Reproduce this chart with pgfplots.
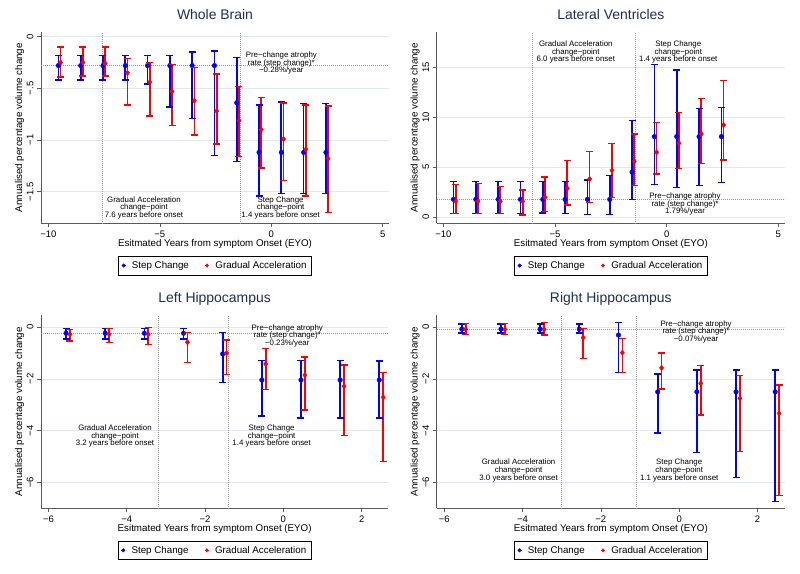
\documentclass[border=0pt]{standalone}
\usepackage{pgfplots}
\pgfplotsset{compat=1.18}
\usepackage{pgfplotstable}
\usepackage{fontspec}
\setmainfont{Liberation Sans}
\definecolor{gridc}{RGB}{222,233,236}
\definecolor{titlec}{RGB}{30,45,90}
\definecolor{axc}{RGB}{90,90,90}
\definecolor{refc}{RGB}{150,150,150}
\definecolor{sblue}{RGB}{0,0,255}
\definecolor{sred}{RGB}{255,0,0}
\newcommand{\annot}{\fontsize{7.9}{7.6}\selectfont}

% Whole Brain
\pgfplotstableread{
x y hi lo
-9.55 -0.28 -0.184 -0.42
-8.55 -0.28 -0.184 -0.42
-7.55 -0.28 -0.184 -0.42
-6.55 -0.28 -0.184 -0.42
-5.55 -0.28 -0.184 -0.46
-4.55 -0.28 -0.184 -0.68
-3.55 -0.28 -0.15 -0.79
-2.55 -0.28 -0.14 -1.15
-1.55 -0.64 -0.20 -1.21
-0.55 -1.12 -0.66 -1.54
0.45 -1.12 -0.63 -1.52
1.45 -1.12 -0.645 -1.52
2.45 -1.12 -0.645 -1.52
}\wbS
\pgfplotstableread{
x y hi lo
-9.45 -0.25 -0.10 -0.39
-8.45 -0.25 -0.10 -0.38
-7.45 -0.26 -0.10 -0.38
-6.45 -0.35 -0.21 -0.66
-5.45 -0.44 -0.25 -0.77
-4.45 -0.53 -0.27 -0.86
-3.45 -0.62 -0.30 -0.95
-2.45 -0.72 -0.36 -1.04
-1.45 -0.81 -0.48 -1.16
-0.45 -0.90 -0.59 -1.27
0.55 -0.99 -0.64 -1.39
1.55 -1.09 -0.66 -1.54
2.55 -1.18 -0.67 -1.70
}\wbG
% Lateral Ventricles
\pgfplotstableread{
x y hi lo
-9.55 1.79 3.57 0.4
-8.55 1.79 3.57 0.4
-7.55 1.79 3.57 0.4
-6.55 1.79 3.57 0.4
-5.55 1.79 3.57 0.45
-4.55 1.79 3.57 0.4
-3.55 1.79 3.73 0.3
-2.55 1.79 4.17 0.3
-1.55 4.5 9.67 1.8
-0.55 8.07 15.3 3.3
0.45 8.07 14.73 2.97
1.45 8.07 10.9 3.17
2.45 8.07 11.0 3.5
}\lvS
\pgfplotstableread{
x y hi lo
-9.45 1.6 3.3 0.4
-8.45 1.6 3.4 0.4
-7.45 1.6 3.07 0.4
-6.45 1.6 2.73 0.23
-5.45 2.0 4.03 0.6
-4.45 2.9 5.7 1.23
-3.45 3.83 6.57 1.5
-2.45 4.7 7.4 1.97
-1.45 5.6 8.33 3.17
-0.45 6.5 9.47 4.33
0.55 7.4 10.5 4.9
1.55 8.33 11.87 5.4
2.55 9.23 13.67 5.73
}\lvG
% Left Hippocampus
\pgfplotstableread{
x y hi lo
-5.55 -0.23 -0.05 -0.46
-4.55 -0.23 -0.05 -0.46
-3.55 -0.23 -0.05 -0.46
-2.55 -0.23 -0.05 -0.46
-1.55 -1.03 -0.2 -2.14
-0.55 -2.04 -1.29 -3.43
0.45 -2.04 -1.29 -3.52
1.45 -2.04 -1.29 -3.52
2.45 -2.04 -1.30 -3.52
}\lhS
\pgfplotstableread{
x y hi lo
-5.45 -0.27 -0.08 -0.53
-4.45 -0.27 -0.05 -0.59
-3.45 -0.27 0.0 -0.66
-2.45 -0.58 -0.2 -1.37
-1.45 -1.0 -0.49 -1.82
-0.45 -1.42 -0.83 -2.4
0.55 -1.85 -1.15 -3.21
1.55 -2.28 -1.46 -4.19
2.55 -2.71 -1.75 -5.2
}\lhG
% Right Hippocampus
\pgfplotstableread{
x y hi lo
-5.55 -0.07 0.13 -0.23
-4.55 -0.07 0.13 -0.23
-3.55 -0.07 0.13 -0.23
-2.55 -0.07 0.13 -0.23
-1.55 -0.3 0.18 -1.75
-0.55 -2.5 -1.8 -4.1
0.45 -2.5 -1.65 -4.85
1.45 -2.5 -1.65 -5.82
2.45 -2.5 -1.65 -6.74
}\rhS
\pgfplotstableread{
x y hi lo
-5.45 -0.08 0.14 -0.27
-4.45 -0.08 0.14 -0.27
-3.45 -0.08 0.19 -0.3
-2.45 -0.4 -0.05 -1.2
-1.45 -0.98 -0.43 -1.75
-0.45 -1.57 -1.0 -2.39
0.55 -2.17 -1.47 -3.39
1.55 -2.75 -1.87 -4.81
2.55 -3.33 -2.24 -6.52
}\rhG

\tikzset{refl/.style={refc, line width=0.7bp, dash pattern=on 0.7bp off 1.3bp}}
\pgfplotsset{
  panel/.style={
    scale only axis, anchor=south west,
    axis x line*=bottom, axis y line*=left,
    axis line style={-, axc, line width=0.6bp},
    tick align=outside, major tick length=4bp,
    every tick/.style={axc, line width=0.6bp},
    ymajorgrids, grid style={gridc, line width=0.7bp},
    tick label style={font=\fontsize{9.5}{11}\selectfont},
    yticklabel style={rotate=90, anchor=south},
    xticklabel style={anchor=north},
    label style={font=\fontsize{9.8}{11}\selectfont},
    xlabel={Esitmated Years from symptom Onset (EYO)},
    ylabel={Annualised percentage volume change},
    xlabel style={at={(axis description cs:0.5,0)}, anchor=center, yshift=-21bp},
    ylabel style={at={(axis description cs:-0.0618,0.5)}, anchor=center},
    title style={font=\fontsize{14}{16}\selectfont, text=titlec, at={(axis description cs:0.5,1)}, anchor=center},
    legend columns=2,
    legend cell align=left,
    legend style={anchor=north, draw=black, line width=0.5bp, font=\fontsize{9.8}{11}\selectfont, inner xsep=3bp, inner ysep=3bp,
      /tikz/every odd column/.append style={column sep=4bp},
      /tikz/every even column/.append style={column sep=14bp}},
    legend image code/.code={\path (-2bp,0bp) -- (2bp,0bp); \draw[#1, mark size=1.7bp] plot coordinates {(0bp,0bp)};},
  },
  sc/.style={sblue, only marks, mark=*, mark size=2.3bp},
  ga/.style={sred, only marks, mark=diamond*, mark size=2.8bp},
  barb/.style={forget plot, draw=sblue, line width=1.7bp, quiver={u=0, v=\thisrow{hi}-\thisrow{lo}}},
  barr/.style={forget plot, draw=sred, line width=1.7bp, quiver={u=0, v=\thisrow{hi}-\thisrow{lo}}},
  capb/.style={forget plot, only marks, mark=-, mark size=3.5bp, mark options={draw=sblue, line width=1.5bp}},
  capr/.style={forget plot, only marks, mark=-, mark size=3.5bp, mark options={draw=sred, line width=1.5bp}},
}
% bars, caps and points of one series
\newcommand{\series}[4]{%
  \addplot[#1] table[x=x, y=lo] {#4};
  \addplot[#2] table[x=x, y=hi] {#4};
  \addplot[#2] table[x=x, y=lo] {#4};
  \addplot[#3] table[x=x, y=y] {#4};}

\begin{document}
\begin{tikzpicture}
\path[use as bounding box] (0,0) rectangle (800bp,574bp);

% ---------- Whole Brain ----------
\begin{axis}[panel, at={(41bp,350.7bp)}, width=348bp, height=191.3bp,
  xmin=-10.33, xmax=5.28, ymin=-1.806, ymax=0.045,
  xtick={-10,-5,0,5}, xticklabels={−10,−5,0,5},
  ytick={-1.5,-1,-0.5,0}, yticklabels={−1.5,−1,−.5,0},
  title={Whole Brain}, title style={yshift=12bp},
  legend style={at={(0.5,-0.171)}}]
\draw[refl] ({axis cs:-7.6,0}|-{rel axis cs:0,0}) -- ({axis cs:-7.6,0}|-{rel axis cs:0,1});
\draw[refl] ({axis cs:-1.4,0}|-{rel axis cs:0,0}) -- ({axis cs:-1.4,0}|-{rel axis cs:0,1});
\draw[refl] ({rel axis cs:0,0}|-{axis cs:0,-0.28}) -- ({rel axis cs:1,0}|-{axis cs:0,-0.28});
\series{barb}{capb}{sc}{\wbS}
\series{barr}{capr}{ga}{\wbG}
\node[align=center, font=\annot, inner sep=0pt] at (axis cs:0.45,-0.255) {Pre−change atrophy\\rate (step change)*\\−0.28\%/year};
\node[align=center, font=\annot, inner sep=0pt] at (axis cs:-5.71,-1.655) {Gradual Acceleration\\change−point\\7.6 years before onset};
\node[align=center, font=\annot, inner sep=0pt] at (axis cs:0.42,-1.655) {Step Change\\change−point\\1.4 years before onset};
\legend{Step Change, Gradual Acceleration}
\end{axis}

% ---------- Lateral Ventricles ----------
\begin{axis}[panel, at={(436.7bp,350.7bp)}, width=348.3bp, height=191.3bp,
  xmin=-10.3, xmax=5.3, ymin=-0.6, ymax=18.53,
  xtick={-10,-5,0,5}, xticklabels={−10,−5,0,5},
  ytick={0,5,10,15}, yticklabels={0,5,10,15},
  title={Lateral Ventricles}, title style={yshift=12bp},
  legend style={at={(0.5,-0.171)}}]
\draw[refl] ({axis cs:-6.0,0}|-{rel axis cs:0,0}) -- ({axis cs:-6.0,0}|-{rel axis cs:0,1});
\draw[refl] ({axis cs:-1.4,0}|-{rel axis cs:0,0}) -- ({axis cs:-1.4,0}|-{rel axis cs:0,1});
\draw[refl] ({rel axis cs:0,0}|-{axis cs:0,1.79}) -- ({rel axis cs:1,0}|-{axis cs:0,1.79});
\series{barb}{capb}{sc}{\lvS}
\series{barr}{capr}{ga}{\lvG}
\node[align=center, font=\annot, inner sep=0pt] at (axis cs:0.82,1.33) {Pre−change atrophy\\rate (step change)*\\1.79\%/year};
\node[align=center, font=\annot, inner sep=0pt] at (axis cs:-4.07,16.5) {Gradual Acceleration\\change−point\\6.0 years before onset};
\node[align=center, font=\annot, inner sep=0pt] at (axis cs:0.52,16.5) {Step Change\\change−point\\1.4 years before onset};
\legend{Step Change, Gradual Acceleration}
\end{axis}

% ---------- Left Hippocampus ----------
\begin{axis}[panel, at={(41bp,65.7bp)}, width=347.3bp, height=193.3bp,
  xmin=-6.19, xmax=2.68, ymin=-7.007, ymax=0.476,
  xtick={-6,-4,-2,0,2}, xticklabels={−6,−4,−2,0,2},
  ytick={-6,-4,-2,0}, yticklabels={−6,−4,−2,0},
  title={Left Hippocampus}, title style={yshift=10.5bp},
  legend style={at={(0.5,-0.168)}}]
\draw[refl] ({axis cs:-3.2,0}|-{rel axis cs:0,0}) -- ({axis cs:-3.2,0}|-{rel axis cs:0,1});
\draw[refl] ({axis cs:-1.4,0}|-{rel axis cs:0,0}) -- ({axis cs:-1.4,0}|-{rel axis cs:0,1});
\draw[refl] ({rel axis cs:0,0}|-{axis cs:0,-0.23}) -- ({rel axis cs:1,0}|-{axis cs:0,-0.23});
\series{barb}{capb}{sc}{\lhS}
\series{barr}{capr}{ga}{\lhG}
\node[align=center, font=\annot, inner sep=0pt] at (axis cs:0.1,-0.33) {Pre−change atrophy\\rate (step change)*\\−0.23\%/year};
\node[align=center, font=\annot, inner sep=0pt] at (axis cs:-4.3,-4.22) {Gradual Acceleration\\change−point\\3.2 years before onset};
\node[align=center, font=\annot, inner sep=0pt] at (axis cs:-0.3,-4.22) {Step Change\\change−point\\1.4 years before onset};
\legend{Step Change, Gradual Acceleration}
\end{axis}

% ---------- Right Hippocampus ----------
\begin{axis}[panel, at={(436.7bp,65.7bp)}, width=348.3bp, height=193.3bp,
  xmin=-6.19, xmax=2.70, ymin=-7.007, ymax=0.476,
  xtick={-6,-4,-2,0,2}, xticklabels={−6,−4,−2,0,2},
  ytick={-6,-4,-2,0}, yticklabels={−6,−4,−2,0},
  title={Right Hippocampus}, title style={yshift=10.5bp},
  legend style={at={(0.5,-0.168)}}]
\draw[refl] ({axis cs:-3.0,0}|-{rel axis cs:0,0}) -- ({axis cs:-3.0,0}|-{rel axis cs:0,1});
\draw[refl] ({axis cs:-1.1,0}|-{rel axis cs:0,0}) -- ({axis cs:-1.1,0}|-{rel axis cs:0,1});
\draw[refl] ({rel axis cs:0,0}|-{axis cs:0,-0.07}) -- ({rel axis cs:1,0}|-{axis cs:0,-0.07});
\series{barb}{capb}{sc}{\rhS}
\series{barr}{capr}{ga}{\rhG}
\node[align=center, font=\annot, inner sep=0pt] at (axis cs:0.43,-0.17) {Pre−change atrophy\\rate (step change)*\\−0.07\%/year};
\node[align=center, font=\annot, inner sep=0pt] at (axis cs:-4.1,-5.54) {Gradual Acceleration\\change−point\\3.0 years before onset};
\node[align=center, font=\annot, inner sep=0pt] at (axis cs:0.0,-5.54) {Step Change\\change−point\\1.1 years before onset};
\legend{Step Change, Gradual Acceleration}
\end{axis}
\end{tikzpicture}
\end{document}
